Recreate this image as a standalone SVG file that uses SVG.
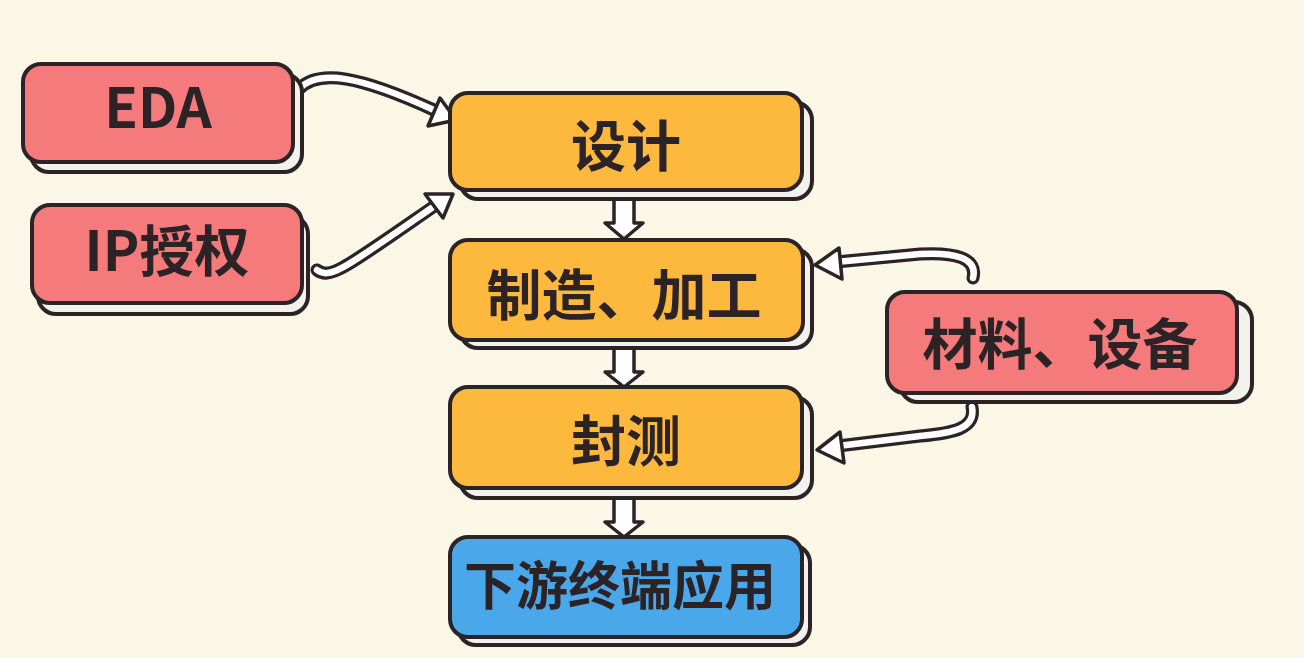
<svg xmlns="http://www.w3.org/2000/svg" width="1304" height="658" viewBox="0 0 1304 658">
<style>
.bg{fill:#faf7e6}
.sh{fill:#f2f1ec;stroke:#2b2326;stroke-width:4}
.box{stroke:#2b2326;stroke-width:4}
.red{fill:#f47a7c}
.org{fill:#fdb93d}
.blu{fill:#4aa8ea}
.t{font-family:"Noto Sans CJK SC","Noto Sans",sans-serif;font-weight:bold;font-size:55px;fill:#2b2326;text-anchor:middle}
.so{fill:none;stroke:#2b2326;stroke-width:13;stroke-linecap:round}
.si{fill:none;stroke:#ffffff;stroke-width:6.5;stroke-linecap:round}
.hd{fill:#ffffff;stroke:#2b2326;stroke-width:3.5;stroke-linejoin:round}
</style>
<rect class="bg" x="0" y="0" width="1304" height="658"/>
<g id="connectors">
  <g id="eda-design">
    <path class="so" d="M298,90 C318,68 360,76 436,111"/>
    <path class="si" d="M298,90 C318,68 360,76 436,111"/>
    <polygon class="hd" points="456,120 428,126 440,98"/>
  </g>
  <g id="ip-design">
    <path class="so" d="M317,270 C330,280 345,268 433,207"/>
    <path class="si" d="M317,270 C330,280 345,268 433,207"/>
    <polygon class="hd" points="453,194 443,218 425,194"/>
  </g>
  <g id="mat-mfg">
    <path class="so" d="M973,278 C978,258 955,252 920,254 L836,262"/>
    <path class="si" d="M973,278 C978,258 955,252 920,254 L836,262"/>
    <polygon class="hd" points="815,265 839,248 842,279"/>
  </g>
  <g id="mat-test">
    <path class="so" d="M972,407 C976,428 955,433 920,436 L838,446"/>
    <path class="si" d="M972,407 C976,428 955,433 920,436 L838,446"/>
    <polygon class="hd" points="817,450 840,432 844,463"/>
  </g>
  <polygon class="hd" id="design-mfg" points="614,198 634,198 634,223 643,223 624,239 605,223 614,223"/>
  <polygon class="hd" id="mfg-test" points="614,348 634,348 634,372 643,372 624,387 605,372 614,372"/>
  <polygon class="hd" id="test-down" points="614,498 634,498 634,522 643,522 624,537 605,522 614,522"/>
</g>
<g id="eda">
  <rect class="sh" x="31" y="74" width="271" height="98" rx="18"/>
  <rect class="box red" x="23" y="64" width="270" height="98" rx="18"/>
  <text class="t" x="158" y="128">EDA</text>
</g>
<g id="ip">
  <rect class="sh" x="38" y="216" width="270" height="98" rx="18"/>
  <rect class="box red" x="32" y="205" width="270" height="98" rx="18"/>
  <text class="t" x="167" y="271">IP授权</text>
</g>
<g id="design">
  <rect class="sh" x="460" y="102" width="352" height="97" rx="18"/>
  <rect class="box org" x="450" y="93" width="352" height="97" rx="18"/>
  <text class="t" x="626" y="166">设计</text>
</g>
<g id="mfg">
  <rect class="sh" x="460" y="249" width="352" height="99" rx="18"/>
  <rect class="box org" x="450" y="240" width="353" height="100" rx="18"/>
  <text class="t" x="624" y="315">制造、加工</text>
</g>
<g id="test">
  <rect class="sh" x="460" y="397" width="352" height="101" rx="18"/>
  <rect class="box org" x="450" y="387" width="352" height="101" rx="18"/>
  <text class="t" x="626" y="461">封测</text>
</g>
<g id="downstream">
  <rect class="sh" x="458" y="545" width="352" height="100" rx="18"/>
  <rect class="box blu" x="450" y="537" width="352" height="100" rx="18"/>
  <text class="t" x="620" y="605" style="font-size:52px">下游终端应用</text>
</g>
<g id="materials">
  <rect class="sh" x="900" y="302" width="352" height="100" rx="18"/>
  <rect class="box red" x="887" y="292" width="350" height="101" rx="18"/>
  <text class="t" x="1060" y="364">材料、设备</text>
</g>
</svg>
